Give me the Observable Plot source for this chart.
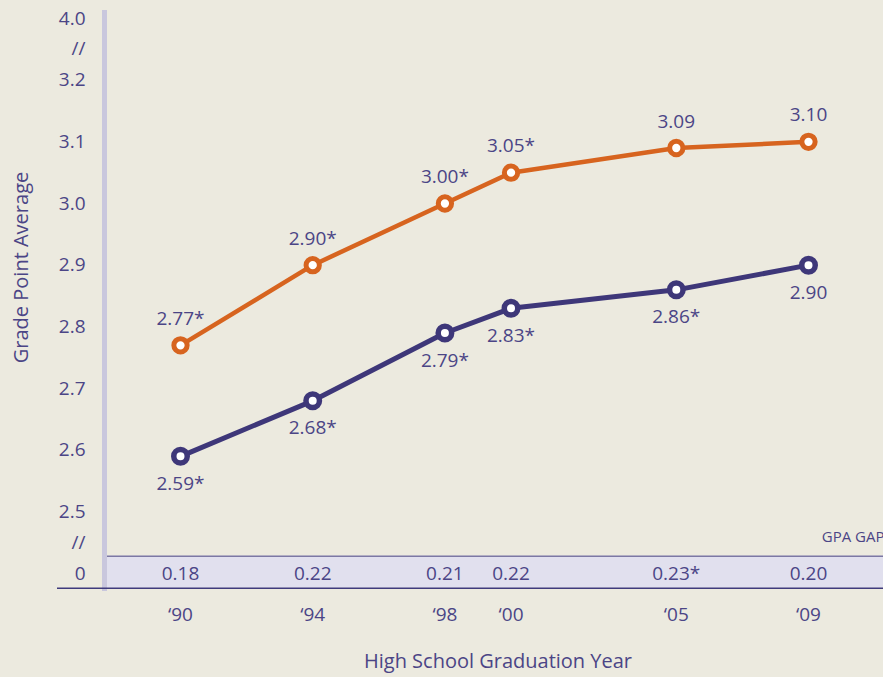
<!DOCTYPE html>
<html>
<head>
<meta charset="utf-8">
<script src="https://cdn.jsdelivr.net/npm/d3@7"></script>
<script src="https://cdn.jsdelivr.net/npm/@observablehq/plot@0.6"></script>
<style>
  html, body { margin: 0; padding: 0; background: #eceadf; }
  #chart svg { display: block; }
</style>
</head>
<body>
<div id="chart"></div>
<script>
// ---- data ----
const years = [1990, 1994, 1998, 2000, 2005, 2009];
const yearLabels = ["‘90", "‘94", "‘98", "‘00", "‘05", "‘09"];
const upperGPA = [2.77, 2.90, 3.00, 3.05, 3.09, 3.10];
const upperLabels = ["2.77*", "2.90*", "3.00*", "3.05*", "3.09", "3.10"];
const lowerGPA = [2.59, 2.68, 2.79, 2.83, 2.86, 2.90];
const lowerLabels = ["2.59*", "2.68*", "2.79*", "2.83*", "2.86*", "2.90"];
const gapLabels = ["0.18", "0.22", "0.21", "0.22", "0.23*", "0.20"];
// broken axis: "0" row and "4.0" row sit at break positions of the scale
const yTickValues = [2.4, 2.45, 2.5, 2.6, 2.7, 2.8, 2.9, 3.0, 3.1, 3.2, 3.25, 3.3];
const yTickLabels = ["0", "//", "2.5", "2.6", "2.7", "2.8", "2.9", "3.0", "3.1", "3.2", "//", "4.0"];
const gapRowValue = 2.4;          // the "0" row where gaps are printed
const gapBand = [2.376, 2.428];   // band around the gap row

// ---- styles ----
const BG = "#eceadf";
const TEXT = "#4b4586";
const ORANGE = "#d7641f";
const PURPLE = "#3e3779";
const FONT = "'Open Sans', 'Noto Sans', sans-serif";

const upper = years.map((year, i) => ({year, gpa: upperGPA[i], label: upperLabels[i]}));
const lower = years.map((year, i) => ({year, gpa: lowerGPA[i], label: lowerLabels[i]}));
const gaps = years.map((year, i) => ({year, y: gapRowValue, label: gapLabels[i]}));
const yFmt = new Map(yTickValues.map((v, i) => [v, yTickLabels[i]]));
const xFmt = new Map(years.map((v, i) => [v, yearLabels[i]]));

const chart = Plot.plot({
  width: 883,
  height: 677,
  marginLeft: 104,
  marginRight: 0,
  marginTop: 12,
  marginBottom: 89,
  style: {background: BG, color: TEXT, fontFamily: FONT, fontSize: "19px", overflow: "visible"},
  x: {domain: [1990, 2009], range: [180, 808]},
  y: {domain: [2.4, 3.3], range: [573, 18]},
  marks: [
    Plot.rect([0], {y1: gapBand[0], y2: gapBand[1], fill: "#e1e0ee"}),
    Plot.ruleY([gapBand[1]], {stroke: "#7c78a4", strokeWidth: 1.5}),
    Plot.frame({anchor: "left", stroke: "#c9c7dd", strokeWidth: 5}),
    Plot.ruleY([gapBand[0]], {stroke: "#3f3b7c", strokeWidth: 1.5, insetLeft: -47}),
    Plot.axisY({ticks: yTickValues, tickFormat: d => yFmt.get(d), tickSize: 0, tickPadding: 19, fontSize: 19, fill: TEXT, label: null}),
    Plot.axisX({ticks: years, tickFormat: d => xFmt.get(d), tickSize: 0, tickPadding: 19, fontSize: 19, fill: TEXT, label: null}),
    Plot.text(["Grade Point Average"], {frameAnchor: "left", textAnchor: "middle", lineAnchor: "middle", rotate: -90, dx: -83, dy: -33, fontSize: 20, fill: TEXT}),
    Plot.text(["High School Graduation Year"], {frameAnchor: "bottom", textAnchor: "middle", lineAnchor: "middle", dx: 4, dy: 73, fontSize: 20, fill: TEXT}),
    Plot.text(["GPA GAP"], {frameAnchor: "bottom-right", textAnchor: "end", lineAnchor: "middle", dx: 1, dy: -51, fontSize: 15, fill: TEXT}),
    Plot.text(gaps, {x: "year", y: "y", text: "label", fontSize: 19, fill: TEXT}),
    Plot.line(upper, {x: "year", y: "gpa", stroke: ORANGE, strokeWidth: 4.5}),
    Plot.line(lower, {x: "year", y: "gpa", stroke: PURPLE, strokeWidth: 5}),
    Plot.dot(upper, {x: "year", y: "gpa", r: 6.65, fill: "white", stroke: ORANGE, strokeWidth: 5}),
    Plot.dot(lower, {x: "year", y: "gpa", r: 6.75, fill: "white", stroke: PURPLE, strokeWidth: 5.5}),
    Plot.text(upper, {x: "year", y: "gpa", text: "label", dy: -26.5, fontSize: 19, fill: TEXT}),
    Plot.text(lower, {x: "year", y: "gpa", text: "label", dy: 27.5, fontSize: 19, fill: TEXT})
  ]
});
document.getElementById("chart").appendChild(chart);
</script>
</body>
</html>
